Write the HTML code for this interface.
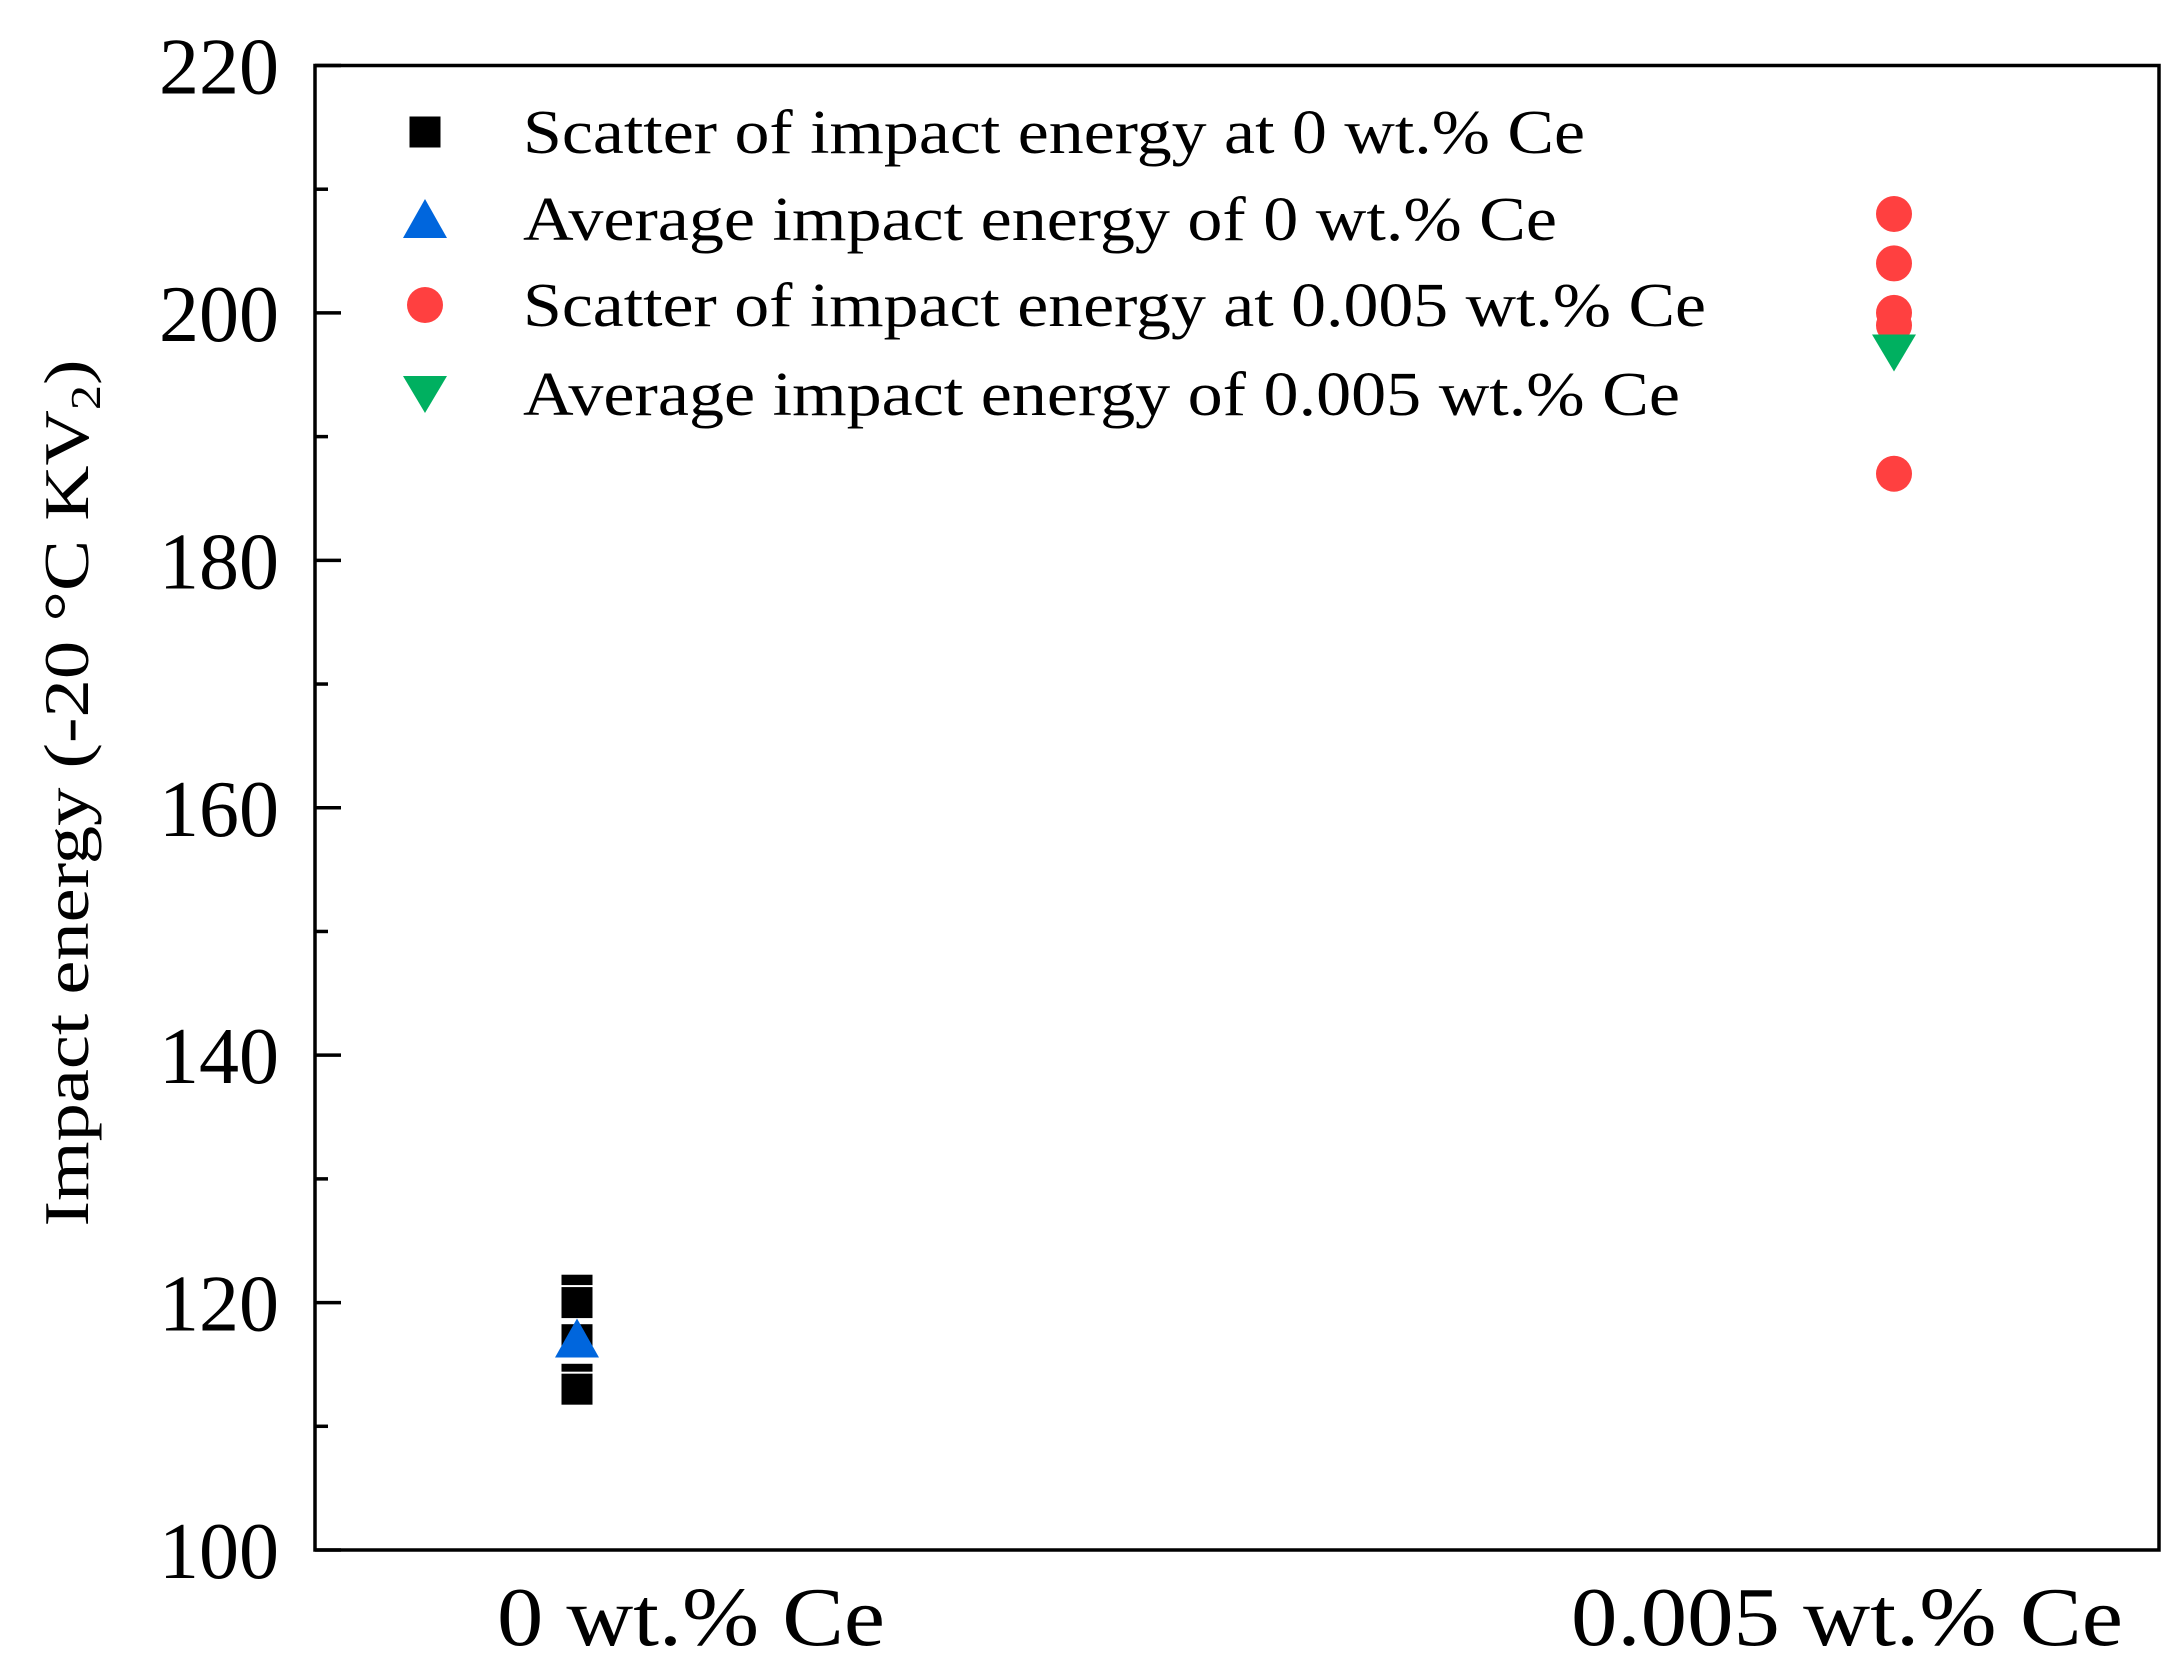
<!DOCTYPE html>
<html><head><meta charset="utf-8"><style>
html,body{margin:0;padding:0;background:#fff;}
svg{display:block;font-family:"Liberation Serif",serif;}
</style></head><body>
<svg id="chart" width="2175" height="1666" viewBox="0 0 2175 1666" xmlns="http://www.w3.org/2000/svg">
<rect x="0" y="0" width="2175" height="1666" fill="#fff"/>
<g id="marks"></g>
<rect x="315" y="65.5" width="1844" height="1484.5" fill="none" stroke="#000" stroke-width="3.5"/>
<g id="yaxis"></g>
<g id="xaxis"></g>
<text transform="translate(88,793) rotate(-90)" text-anchor="middle" font-size="64" textLength="867" lengthAdjust="spacingAndGlyphs">Impact energy (-20 °C KV<tspan font-size="42" dy="12">2</tspan><tspan dy="-12">)</tspan></text>
<g id="legend"></g>
</svg>
<script>
const yTicks = [100, 120, 140, 160, 180, 200, 220];
const yMinorTicks = [110, 130, 150, 170, 190, 210];
const categories = ["0 wt.% Ce", "0.005 wt.% Ce"];
const scatter0 = [121, 120, 117, 113.8, 113];
const scatter005 = [208, 204, 200, 199, 187];
const avg0 = [117.1];
const avg005 = [196.8];
const legendLabels = ["Scatter of impact energy at 0 wt.% Ce","Average impact energy of 0 wt.% Ce","Scatter of impact energy at 0.005 wt.% Ce","Average impact energy of 0.005 wt.% Ce"];

const NS = "http://www.w3.org/2000/svg";
const top_ = 65.5, bot = 1550, left = 315, right = 2159;
function yScale(v){ return bot - (v - 100) / 120 * (bot - top_); }
const catX = [577, 1894];
const catLabelX = [691, 1847];
function xScale(i){ return catX[i]; }
function mk(tag, attrs, parent){ const e = document.createElementNS(NS, tag); for (const k in attrs) e.setAttribute(k, attrs[k]); parent.appendChild(e); return e; }

const yaxis = document.getElementById('yaxis');
yTicks.forEach(v => {
  const y = yScale(v);
  const t = mk('line', {x1:left, x2:left+26, y1:y, y2:y, stroke:'#000', 'stroke-width':3.5}, yaxis);
  
  
  const l = mk('text', {x:279, y:y+28, 'text-anchor':'end', 'font-size':80}, yaxis);
  l.textContent = v;
  
  
});
yMinorTicks.forEach(v => {
  const y = yScale(v);
  const t = mk('line', {x1:left, x2:left+13, y1:y, y2:y, stroke:'#000', 'stroke-width':3.5}, yaxis);
  
  
});
const xaxis = document.getElementById('xaxis');
const xw = [388, 552];
categories.forEach((c, i) => {
  const l = mk('text', {x:catLabelX[i], y:1645, 'text-anchor':'middle', 'font-size':84, textLength:xw[i], lengthAdjust:'spacingAndGlyphs'}, xaxis);
  l.textContent = c;
  
  
});

const marks = document.getElementById('marks');
function square(cx, cy, g){ return mk('rect', {x:cx-16.5, y:cy-16.5, width:33, height:33, fill:'#000', stroke:'#fff', 'stroke-width':2}, g); }
function circle(cx, cy, g){ return mk('circle', {cx:cx, cy:cy, r:18, fill:'#ff4040'}, g); }
function triUp(cx, cy, g){ return mk('polygon', {points:`${cx},${cy-20} ${cx+22},${cy+19} ${cx-22},${cy+19}`, fill:'#0066dd'}, g); }
function triDown(cx, cy, g){ return mk('polygon', {points:`${cx-22},${cy-18} ${cx+22},${cy-18} ${cx},${cy+19}`, fill:'#00b060'}, g); }

scatter0.forEach(v => {
  const e = square(xScale(0), yScale(v), marks);
  
  
});
avg0.forEach(v => {
  const e = triUp(xScale(0), yScale(v), marks);
  
  
});
scatter005.forEach(v => {
  const e = circle(xScale(1), yScale(v), marks);
  
  
});
avg005.forEach(v => {
  const e = triDown(xScale(1), yScale(v), marks);
  
  
});

const legend = document.getElementById('legend');
const ly = [132, 219, 305, 394];
const lw = [1062, 1034, 1183, 1157];
const makers = [square, triUp, circle, triDown];
legendLabels.forEach((txt, i) => {
  const g = mk('g', {}, legend);
  
  
  makers[i](425, ly[i], g);
  const t = mk('text', {x:523, y:ly[i]+21, 'font-size':62, textLength:lw[i], lengthAdjust:'spacingAndGlyphs'}, g);
  t.textContent = txt;
  
  
});
</script>
</body></html>
